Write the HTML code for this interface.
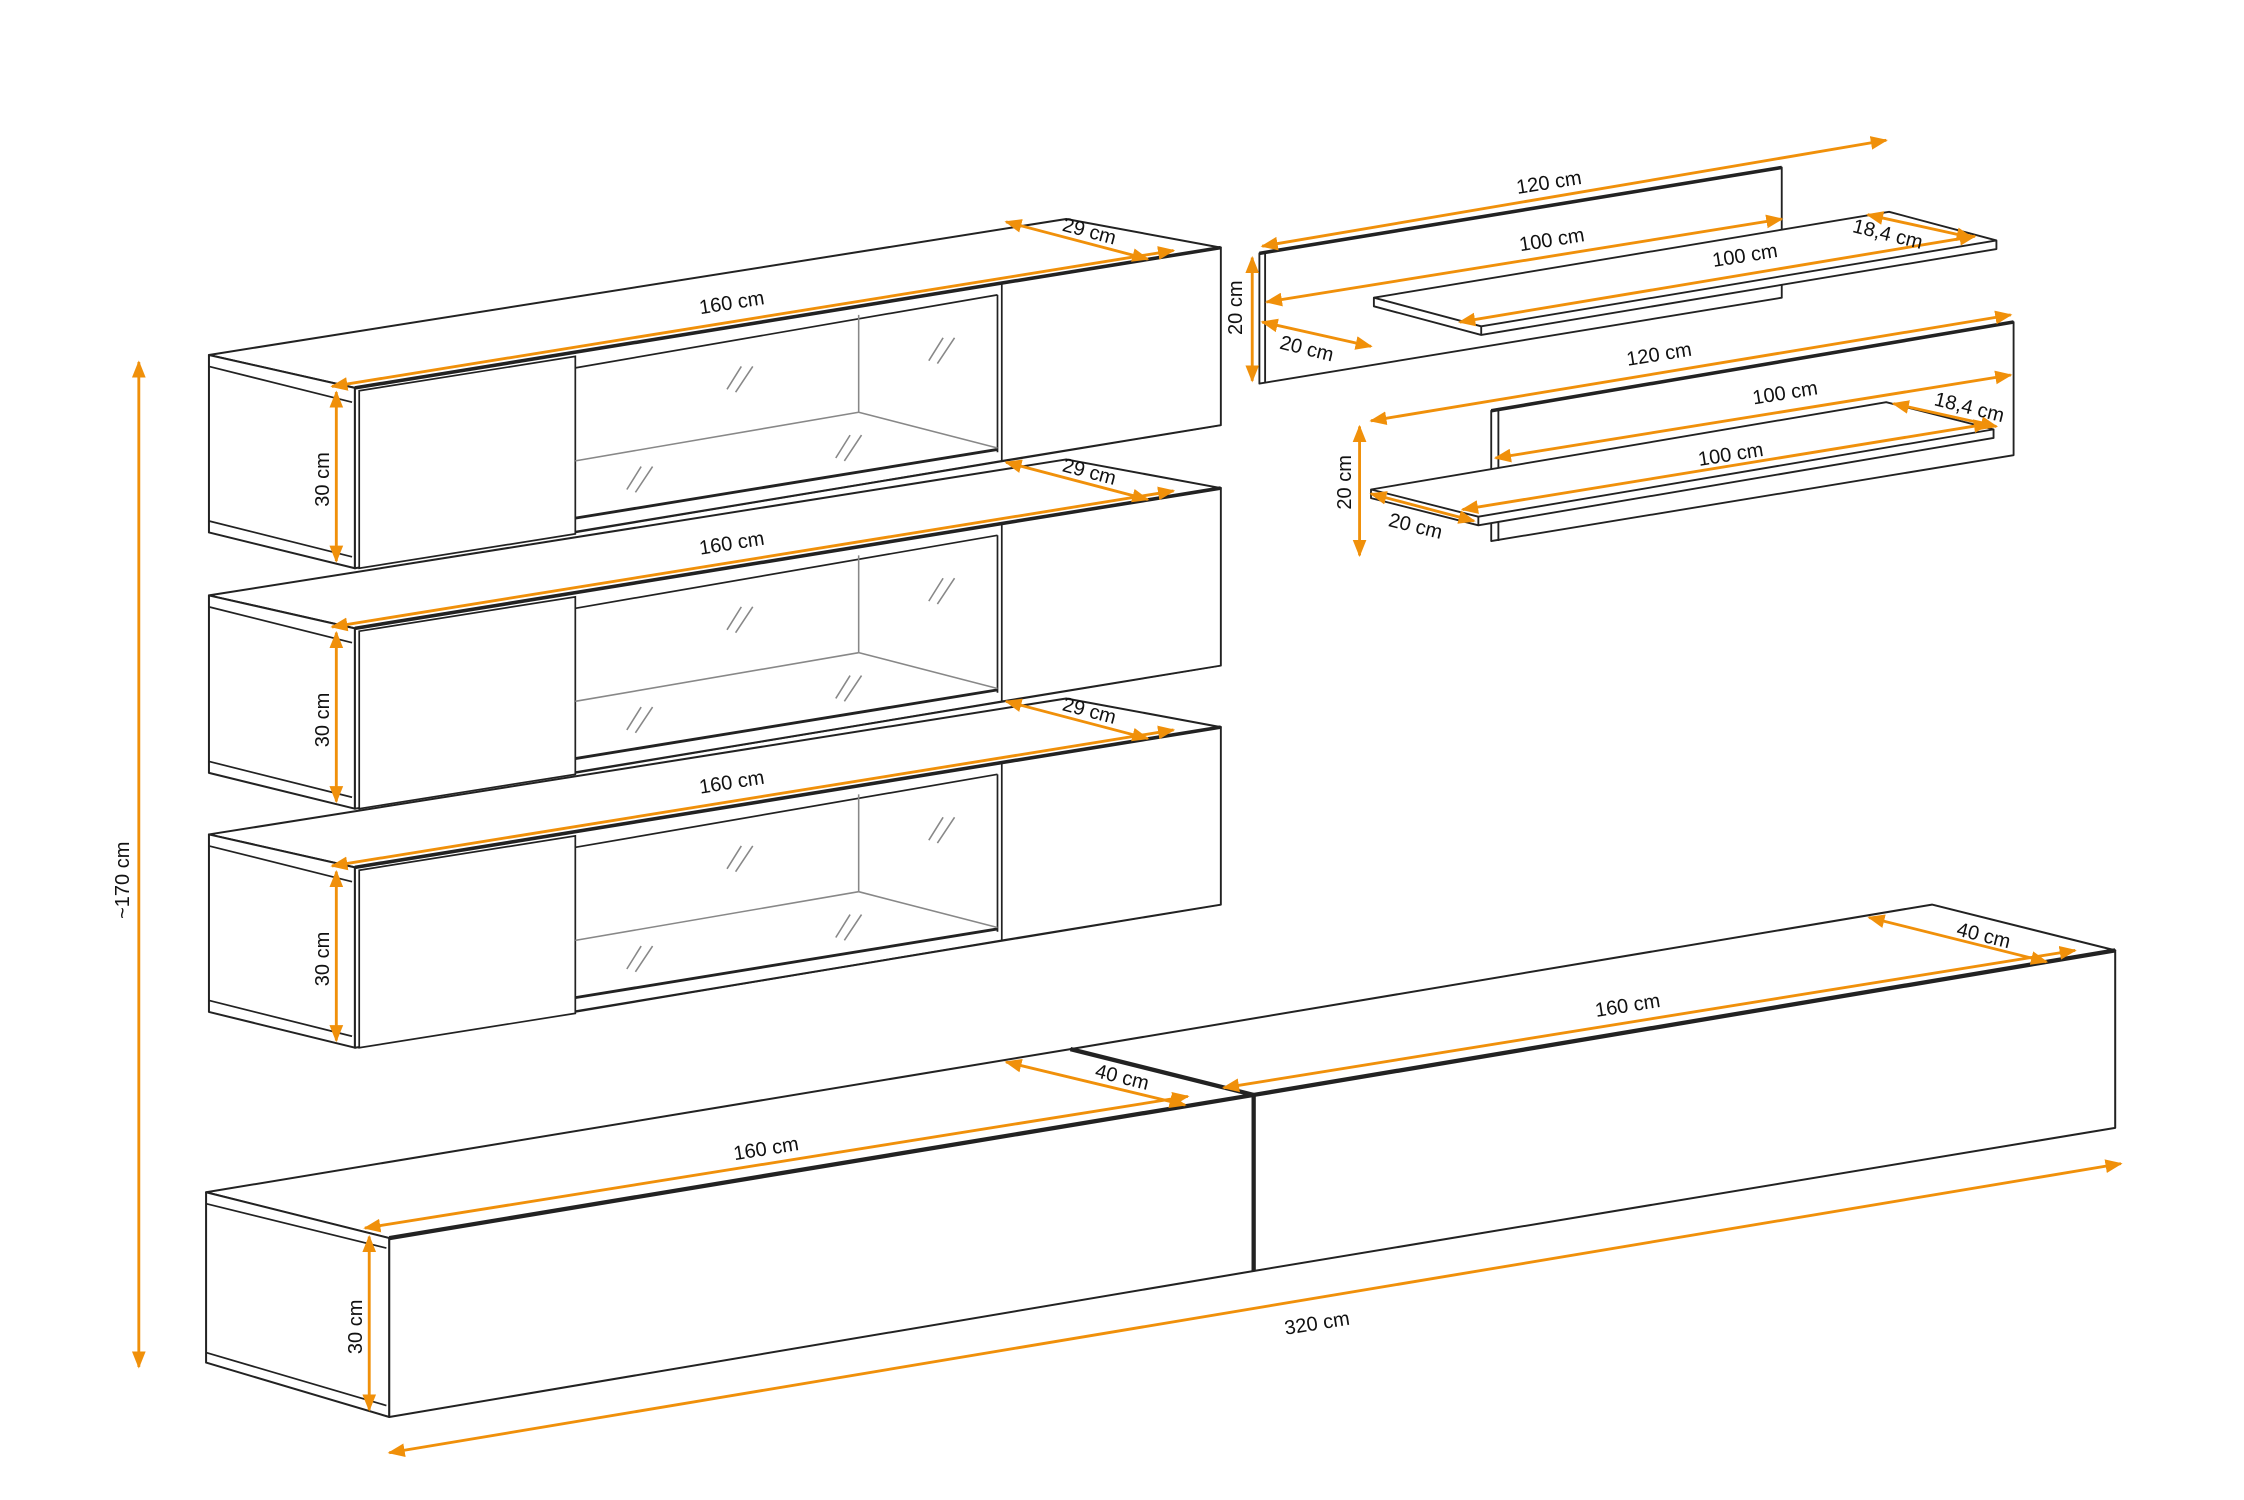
<!DOCTYPE html>
<html><head><meta charset="utf-8"><style>
html,body{margin:0;padding:0;background:#fff;}
svg{display:block;}
text{font-family:"Liberation Sans",sans-serif;font-size:14px;fill:#111;}
</style></head><body>
<svg width="2244" height="1500" viewBox="0 0 1568 1048" preserveAspectRatio="none" xmlns="http://www.w3.org/2000/svg">
<defs>
<marker id="a" viewBox="0 0 10 10" refX="9" refY="5" markerWidth="6" markerHeight="6" orient="auto-start-reverse"><path d="M0,1 L10,5 L0,9 z" fill="#f0900a"/></marker>
<g id="cab">
  <g fill="#fff" stroke="#222" stroke-width="1.4" stroke-linejoin="round">
    <polygon points="146,248 745,153 853,173 248,271"/>
    <polygon points="146,248 146,372 248,397 248,271"/>
    <polygon points="248,271 853,173 853,297 248,397"/>
  </g>
  <g fill="none" stroke="#222" stroke-width="1.2">
    <line x1="146" y1="256" x2="246" y2="281"/>
    <line x1="146" y1="364" x2="246" y2="389"/>
    <polygon points="251,273 402,249 402,373 251,397" fill="#fff"/>
    <polygon points="700,198 853,173 853,297 700,322" fill="#fff"/>
    <line x1="402" y1="257" x2="697" y2="206"/>
    <line x1="697" y1="206" x2="697" y2="316"/>
    <line x1="402" y1="362" x2="697" y2="314" stroke-width="2"/>
    <line x1="402" y1="372" x2="700" y2="322"/>
    <line x1="248" y1="271" x2="853" y2="173" stroke-width="2.5"/>
  </g>
  <g stroke="#888" stroke-width="1.1" fill="none">
    <line x1="600" y1="220" x2="600" y2="288"/>
    <line x1="402" y1="322" x2="600" y2="288"/>
    <line x1="600" y1="288" x2="697" y2="313"/>
    <path d="M508,272 L518,256 M514,274 L526,256 M649,252 L659,236 M655,254 L667,236 M438,342 L448,326 M444,344 L456,326 M584,320 L594,304 M590,322 L602,304"/>
  </g>
  <g stroke="#f0900a" stroke-width="2" marker-start="url(#a)" marker-end="url(#a)">
    <line x1="232" y1="270" x2="820" y2="175"/>
    <line x1="703" y1="155" x2="802" y2="181"/>
    <line x1="235" y1="274" x2="235" y2="392"/>
  </g>
  <text x="512" y="216" text-anchor="middle" transform="rotate(-9 512 216)">160 cm</text>
  <text x="760" y="166" text-anchor="middle" transform="rotate(15 760 166)">29 cm</text>
  <text x="230" y="335" text-anchor="middle" transform="rotate(-90 230 335)">30 cm</text>
</g>
</defs>
<rect width="1568" height="1048" fill="#fff"/>
<use href="#cab"/>
<use href="#cab" transform="translate(0,168)"/>
<use href="#cab" transform="translate(0,335)"/>

<!-- lowboards -->
<g fill="#fff" stroke="#222" stroke-width="1.4" stroke-linejoin="round">
  <polygon points="748,733 1350,632 1478,664 876,765"/>
  <polygon points="876,765 1478,664 1478,788 876,888"/>
  <polygon points="144,833 748,733 876,765 272,865"/>
  <polygon points="144,833 144,952 272,990 272,865"/>
  <polygon points="272,865 876,765 876,888 272,990"/>
</g>
<g fill="none" stroke="#222" stroke-width="1.2">
  <line x1="144" y1="841" x2="270" y2="872"/>
  <line x1="144" y1="945" x2="270" y2="982"/>
  <line x1="272" y1="865" x2="876" y2="765" stroke-width="3"/>
  <line x1="876" y1="765" x2="1478" y2="664" stroke-width="3"/>
  <line x1="748" y1="733" x2="876" y2="765" stroke-width="3"/>
  <line x1="876" y1="765" x2="876" y2="888" stroke-width="3"/>
</g>
<g stroke="#f0900a" stroke-width="2" marker-start="url(#a)" marker-end="url(#a)">
  <line x1="97" y1="253" x2="97" y2="955"/>
  <line x1="255" y1="858" x2="830" y2="766"/>
  <line x1="703" y1="742" x2="828" y2="772"/>
  <line x1="258" y1="864" x2="258" y2="985"/>
  <line x1="855" y1="760" x2="1450" y2="664"/>
  <line x1="1306" y1="641" x2="1430" y2="672"/>
  <line x1="272" y1="1015" x2="1482" y2="813"/>
</g>
<text x="90" y="615" text-anchor="middle" transform="rotate(-90 90 615)">~170 cm</text>
<text x="536" y="807" text-anchor="middle" transform="rotate(-9 536 807)">160 cm</text>
<text x="783" y="757" text-anchor="middle" transform="rotate(14 783 757)">40 cm</text>
<text x="253" y="927" text-anchor="middle" transform="rotate(-90 253 927)">30 cm</text>
<text x="1138" y="707" text-anchor="middle" transform="rotate(-9 1138 707)">160 cm</text>
<text x="1385" y="658" text-anchor="middle" transform="rotate(14 1385 658)">40 cm</text>
<text x="921" y="929" text-anchor="middle" transform="rotate(-9 921 929)">320 cm</text>

<!-- shelf A -->
<g fill="#fff" stroke="#222" stroke-width="1.3" stroke-linejoin="round">
  <polygon points="880,177 1245,117 1245,208 880,268"/>
  <polygon points="960,208 1320,148 1395,168 1395,174 1035,234 960,214"/>
  <line x1="960" y1="208" x2="1035" y2="228"/>
  <line x1="1035" y1="228" x2="1395" y2="168"/>
  <line x1="1035" y1="228" x2="1035" y2="234"/>
  <line x1="880" y1="177" x2="1245" y2="117" stroke-width="2.5"/>
  <line x1="884" y1="177" x2="884" y2="267"/>
</g>
<!-- shelf B -->
<g fill="#fff" stroke="#222" stroke-width="1.3" stroke-linejoin="round">
  <polygon points="1042,287 1407,225 1407,318 1042,378"/>
  <line x1="1047" y1="287" x2="1047" y2="378"/>
  <line x1="1042" y1="287" x2="1407" y2="225" stroke-width="2.5"/>
  <polygon points="958,342 1318,281 1393,300 1393,306 1033,367 958,348"/>
  <line x1="958" y1="342" x2="1033" y2="361"/>
  <line x1="1033" y1="361" x2="1393" y2="300"/>
  <line x1="1033" y1="361" x2="1033" y2="367"/>
</g>
<g stroke="#f0900a" stroke-width="2" marker-start="url(#a)" marker-end="url(#a)">
  <line x1="882" y1="172" x2="1318" y2="98"/>
  <line x1="885" y1="211" x2="1245" y2="153"/>
  <line x1="1020" y1="225" x2="1380" y2="165"/>
  <line x1="1305" y1="150" x2="1378" y2="166"/>
  <line x1="875" y1="180" x2="875" y2="266"/>
  <line x1="882" y1="225" x2="958" y2="242"/>
  <line x1="958" y1="294" x2="1405" y2="220"/>
  <line x1="1045" y1="320" x2="1405" y2="262"/>
  <line x1="1022" y1="356" x2="1390" y2="296"/>
  <line x1="1323" y1="282" x2="1395" y2="298"/>
  <line x1="950" y1="298" x2="950" y2="388"/>
  <line x1="958" y1="345" x2="1030" y2="364"/>
</g>
<text x="1083" y="132" text-anchor="middle" transform="rotate(-9 1083 132)">120 cm</text>
<text x="1085" y="172" text-anchor="middle" transform="rotate(-9 1085 172)">100 cm</text>
<text x="1220" y="183" text-anchor="middle" transform="rotate(-9 1220 183)">100 cm</text>
<text x="1318" y="168" text-anchor="middle" transform="rotate(14 1318 168)">18,4 cm</text>
<text x="868" y="215" text-anchor="middle" transform="rotate(-90 868 215)">20 cm</text>
<text x="912" y="248" text-anchor="middle" transform="rotate(14 912 248)">20 cm</text>
<text x="1160" y="252" text-anchor="middle" transform="rotate(-9 1160 252)">120 cm</text>
<text x="1248" y="279" text-anchor="middle" transform="rotate(-9 1248 279)">100 cm</text>
<text x="1210" y="322" text-anchor="middle" transform="rotate(-9 1210 322)">100 cm</text>
<text x="1375" y="289" text-anchor="middle" transform="rotate(14 1375 289)">18,4 cm</text>
<text x="944" y="337" text-anchor="middle" transform="rotate(-90 944 337)">20 cm</text>
<text x="988" y="372" text-anchor="middle" transform="rotate(14 988 372)">20 cm</text>
</svg>
</body></html>
